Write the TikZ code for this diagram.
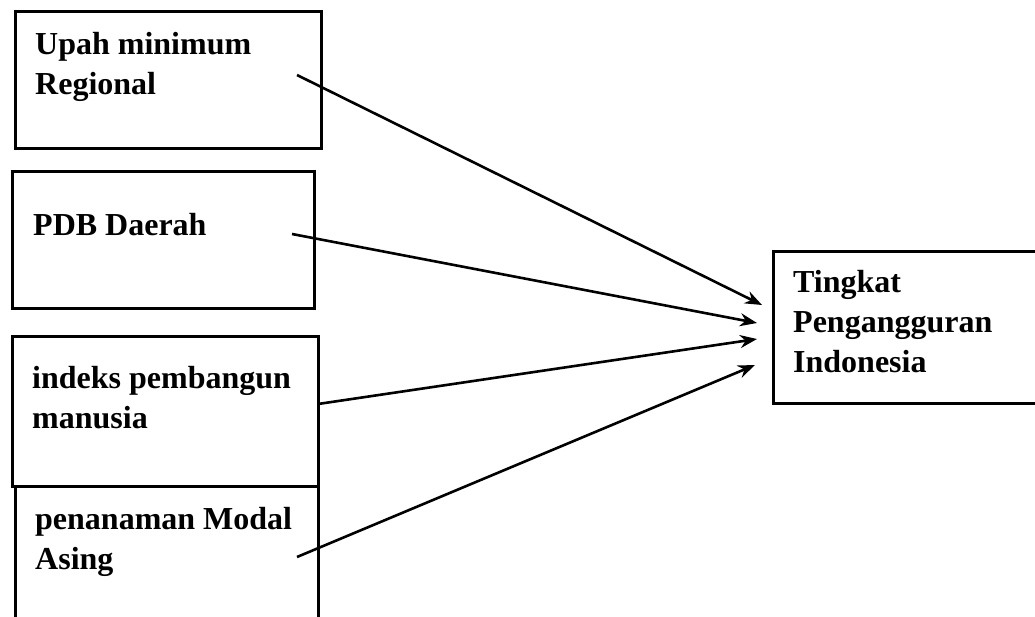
\documentclass[tikz,border=0pt]{standalone}
\usepackage{fontspec}
\setmainfont{Liberation Serif}
\usetikzlibrary{arrows.meta}
\usetikzlibrary{positioning}

\tikzset{
  varbox/.style={draw, line width=2.8pt, anchor=north west, inner sep=0pt},
  vartext/.style={font=\fontsize{32}{40}\selectfont\bfseries, align=left, inner sep=0pt, anchor=base west},
  effect/.style={-{Stealth[length=17pt,width=13pt]}, line width=2.6pt}
}

\begin{document}
\begin{tikzpicture}[x=1pt,y=-1pt]
      \useasboundingbox (0,0) rectangle (1035,617);
      \begin{scope}
        \clip (0,0) rectangle (1035,617);
        % boxes on the left
        \node[varbox, minimum width=306pt, minimum height=137pt] (upah) at (14,10) {};
        \node[varbox, minimum width=302pt, minimum height=137pt] (pdb) at (11,170) {};
        \node[varbox, minimum width=303pt, minimum height=170pt] (pma) at (14,485) {};
        \node[varbox, minimum width=306pt, minimum height=150pt] (ipm) at (11,335) {};
        % box on the right
        \node[varbox, minimum width=300pt, minimum height=152pt] (tpi) at (772,250) {};
      \end{scope}
      % base anchor sits on the last line
      \node[vartext] (upahtext) at (35,95) {Upah minimum\\Regional};
      \node[vartext] (pdbtext) at (33,236) {PDB Daerah};
      \node[vartext] (ipmtext) at (32,428) {indeks pembangun\\manusia};
      \node[vartext] (pmatext) at (35,569) {penanaman Modal\\Asing};
      \node[vartext] (tpitext) at (793,372) {Tingkat\\Pengangguran\\Indonesia};
      % arrow ends
      \coordinate (upahout) at (297,75);
      \coordinate (pdbout) at (292,234);
      \coordinate (ipmout) at (318,404);
      \coordinate (pmaout) at (297,557);
      \coordinate (tpiin1) at (762,305);
      \coordinate (tpiin2) at (757,323);
      \coordinate (tpiin3) at (757,339);
      \coordinate (tpiin4) at (755,365);
      \draw[effect] (upahout) -- (tpiin1);
      \draw[effect] (pdbout) -- (tpiin2);
      \draw[effect] (ipmout) -- (tpiin3);
      \draw[effect] (pmaout) -- (tpiin4);
\end{tikzpicture}
\end{document}
